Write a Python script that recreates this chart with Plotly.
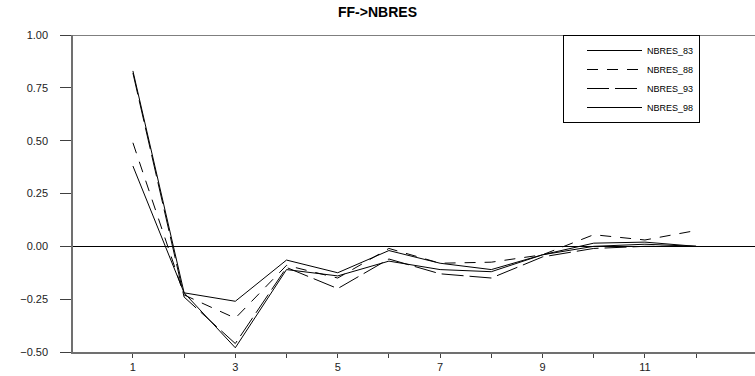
import plotly.graph_objects as go

lags = [1, 2, 3, 4, 5, 6, 7, 8, 9, 10, 11, 12]
nbres_83 = [0.83, -0.22, -0.26, -0.065, -0.125, -0.02, -0.08, -0.11, -0.04, 0.015, 0.02, 0.00]
nbres_88 = [0.49, -0.23, -0.34, -0.09, -0.15, -0.01, -0.08, -0.075, -0.04, 0.055, 0.03, 0.075]
nbres_93 = [0.82, -0.24, -0.46, -0.10, -0.20, -0.06, -0.13, -0.15, -0.05, -0.01, 0.00, 0.00]
nbres_98 = [0.38, -0.22, -0.48, -0.11, -0.14, -0.07, -0.11, -0.12, -0.04, 0.00, 0.01, 0.00]
series_names = ["NBRES_83", "NBRES_88", "NBRES_93", "NBRES_98"]
x_tick_vals = [1, 2, 3, 4, 5, 6, 7, 8, 9, 10, 11, 12]
x_tick_text = ["1", "", "3", "", "5", "", "7", "", "9", "", "11", ""]
y_tick_vals = [-0.5, -0.25, 0.0, 0.25, 0.5, 0.75, 1.0]

dashes = ["solid", "11px,9px", "22px,6px", "solid"]
fig = go.Figure()
for name, vals, dash in zip(series_names, [nbres_83, nbres_88, nbres_93, nbres_98], dashes):
    fig.add_trace(go.Scatter(x=lags, y=vals, mode="lines", name=name,
                             line=dict(color="black", width=1, dash=dash)))

fig.add_shape(type="line", xref="paper", yref="y", x0=0, x1=1, y0=1.0, y1=1.0,
              line=dict(color="black", width=1.2))

fig.update_layout(
    width=755, height=376,
    margin=dict(l=73, r=0, t=35, b=24),
    paper_bgcolor="white", plot_bgcolor="white",
    font=dict(family="Liberation Sans, Arial", color="black", size=11),
    title=dict(text="<b>FF-&gt;NBRES</b>", x=0.5, xanchor="center", xref="container",
               y=1 - 12 / 376, yref="container", yanchor="middle",
               font=dict(size=14, family="Liberation Sans, Arial", color="black")),
    showlegend=True,
    legend=dict(x=(563 - 73) / 682, y=1.0, xanchor="left", yanchor="top",
                bgcolor="white", bordercolor="black", borderwidth=1,
                font=dict(size=9, family="Liberation Sans, Arial"),
                tracegroupgap=0, indentation=18, itemwidth=55),
    xaxis=dict(range=[-0.17, 13.15], tickvals=x_tick_vals, ticktext=x_tick_text,
               showgrid=False, zeroline=False, showline=True, linecolor="#707070",
               linewidth=1.5, ticks="outside", ticklen=4, tickcolor="#404040",
               tickfont=dict(size=11, color="#222")),
    yaxis=dict(range=[-0.5, 1.0], tickvals=y_tick_vals, tickformat=".2f",
               showgrid=False, zeroline=True, zerolinecolor="black", zerolinewidth=1.2,
               showline=True, linecolor="#707070", linewidth=1.5,
               ticks="outside", ticklen=11, tickcolor="#404040", ticklabelstandoff=10,
               tickfont=dict(size=11, color="#222")),
)

fig.write_html("out.html")
